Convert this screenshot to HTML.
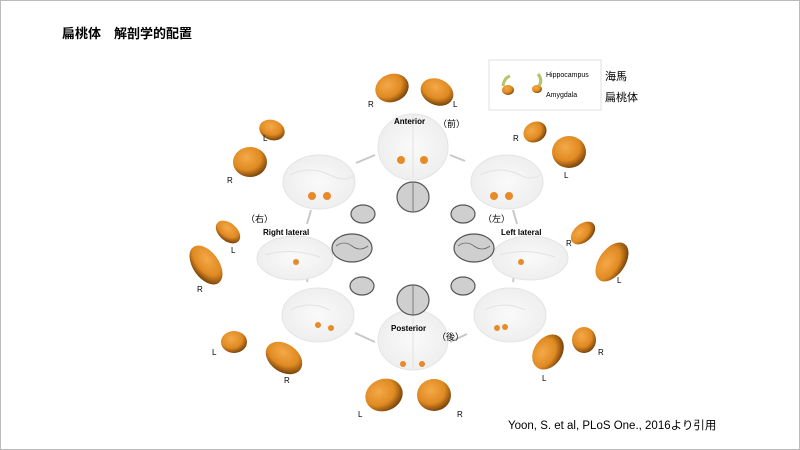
<!DOCTYPE html>
<html><head><meta charset="utf-8"><style>
body{margin:0;background:#fff}
svg{display:block}
text{font-family:"Liberation Sans","Noto Sans CJK JP",sans-serif}
</style></head><body>
<svg width="800" height="450" viewBox="0 0 800 450" xmlns="http://www.w3.org/2000/svg">
<defs>
<radialGradient id="am" cx="40%" cy="35%" r="70%">
<stop offset="0" stop-color="#f4a948"/><stop offset="0.6" stop-color="#e08a22"/><stop offset="1" stop-color="#6b3a08"/>
</radialGradient>
<radialGradient id="gb" cx="50%" cy="50%" r="60%">
<stop offset="0" stop-color="#fafafa"/><stop offset="1" stop-color="#ececec"/>
</radialGradient>
</defs>
<rect x="0.5" y="0.5" width="799" height="449" fill="#fff" stroke="#bbb"/>
<text x="62" y="38" font-size="13" font-weight="bold">扁桃体　解剖学的配置</text>

<rect x="489" y="60" width="112" height="50" fill="#fff" stroke="#e2e2e2"/>
<ellipse cx="508" cy="90" rx="6" ry="5" fill="url(#am)"/><path d="M503 86 q1 -8 7 -10" stroke="#b5c46a" stroke-width="3" fill="none"/>
<ellipse cx="537" cy="89" rx="5" ry="4" fill="url(#am)"/><path d="M539 86 q4 -6 -1 -12" stroke="#b5c46a" stroke-width="3" fill="none"/>
<text x="546" y="77" font-size="7">Hippocampus</text>
<text x="546" y="97" font-size="7">Amygdala</text>
<text x="605" y="80" font-size="11">海馬</text>
<text x="605" y="101" font-size="11">扁桃体</text>

<g stroke="#c8c8c8" stroke-width="2">
<line x1="356" y1="163" x2="375" y2="155"/><line x1="450" y1="155" x2="465" y2="161"/>
<line x1="311" y1="210" x2="307" y2="224"/><line x1="513" y1="210" x2="517" y2="224"/>
<line x1="309" y1="270" x2="307" y2="282"/><line x1="515" y1="270" x2="513" y2="282"/>
<line x1="355" y1="333" x2="375" y2="342"/><line x1="450" y1="342" x2="467" y2="334"/>
</g>

<g fill="url(#gb)" stroke="#e4e4e4">
<ellipse cx="413" cy="147" rx="35" ry="33"/>
<ellipse cx="319" cy="182" rx="36" ry="27"/>
<ellipse cx="507" cy="182" rx="36" ry="27"/>
<ellipse cx="295" cy="258" rx="38" ry="22"/>
<ellipse cx="530" cy="258" rx="38" ry="22"/>
<ellipse cx="318" cy="315" rx="36" ry="27"/>
<ellipse cx="510" cy="315" rx="36" ry="27"/>
<ellipse cx="413" cy="340" rx="35" ry="30"/>
</g>
<g stroke="#e2e2e2" fill="none">
<line x1="413" y1="116" x2="413" y2="178"/><line x1="413" y1="312" x2="413" y2="368"/>
<path d="M290 175 q20 -10 40 0 q15 8 25 0"/><path d="M480 175 q20 -10 40 0 q10 6 20 0"/>
<path d="M265 255 q25 -8 55 2"/><path d="M500 255 q25 -8 55 2"/>
<path d="M290 310 q20 -10 40 0"/><path d="M485 310 q20 -10 40 0"/>
</g>
<g fill="#cfcfcf" stroke="#555" stroke-width="1.2">
<ellipse cx="413" cy="197" rx="16" ry="15"/>
<ellipse cx="363" cy="214" rx="12" ry="9"/>
<ellipse cx="463" cy="214" rx="12" ry="9"/>
<ellipse cx="352" cy="248" rx="20" ry="14"/>
<ellipse cx="474" cy="248" rx="20" ry="14"/>
<ellipse cx="362" cy="286" rx="12" ry="9"/>
<ellipse cx="463" cy="286" rx="12" ry="9"/>
<ellipse cx="413" cy="300" rx="16" ry="15"/>
</g>
<g stroke="#666" stroke-width="0.8" fill="none">
<line x1="413" y1="183" x2="413" y2="211"/><line x1="413" y1="286" x2="413" y2="314"/>
<path d="M336 246 q8 -6 16 0 q8 6 16 0"/><path d="M458 246 q8 -6 16 0 q8 6 16 0"/>
</g>
<g fill="#e98a28">
<circle cx="401" cy="160" r="4"/><circle cx="424" cy="160" r="4"/>
<circle cx="312" cy="196" r="4"/><circle cx="327" cy="196" r="4"/>
<circle cx="494" cy="196" r="4"/><circle cx="509" cy="196" r="4"/>
<circle cx="296" cy="262" r="3"/><circle cx="521" cy="262" r="3"/>
<circle cx="318" cy="325" r="3"/><circle cx="331" cy="328" r="3"/>
<circle cx="497" cy="328" r="3"/><circle cx="505" cy="327" r="3"/>
<circle cx="403" cy="364" r="3"/><circle cx="422" cy="364" r="3"/>
</g>

<g fill="url(#am)">
<ellipse cx="392" cy="88" rx="17" ry="14" transform="rotate(-20 392 88)"/>
<ellipse cx="437" cy="92" rx="17" ry="13" transform="rotate(25 437 92)"/>
<ellipse cx="272" cy="130" rx="13" ry="10" transform="rotate(20 272 130)"/>
<ellipse cx="250" cy="162" rx="17" ry="15"/>
<ellipse cx="228" cy="232" rx="14" ry="9" transform="rotate(40 228 232)"/>
<ellipse cx="206" cy="265" rx="22" ry="13" transform="rotate(55 206 265)"/>
<ellipse cx="234" cy="342" rx="13" ry="11"/>
<ellipse cx="284" cy="358" rx="20" ry="14" transform="rotate(35 284 358)"/>
<ellipse cx="384" cy="395" rx="19" ry="16" transform="rotate(-20 384 395)"/>
<ellipse cx="434" cy="395" rx="17" ry="16"/>
<ellipse cx="535" cy="132" rx="12" ry="10" transform="rotate(-30 535 132)"/>
<ellipse cx="569" cy="152" rx="17" ry="16"/>
<ellipse cx="583" cy="233" rx="14" ry="9" transform="rotate(-40 583 233)"/>
<ellipse cx="612" cy="262" rx="22" ry="13" transform="rotate(-55 612 262)"/>
<ellipse cx="548" cy="352" rx="19" ry="14" transform="rotate(-55 548 352)"/>
<ellipse cx="584" cy="340" rx="12" ry="13"/>
</g>

<g font-size="8">
<text x="368" y="107">R</text><text x="453" y="107">L</text>
<text x="263" y="141">L</text><text x="227" y="183">R</text>
<text x="231" y="253">L</text><text x="197" y="292">R</text>
<text x="212" y="355">L</text><text x="284" y="383">R</text>
<text x="358" y="417">L</text><text x="457" y="417">R</text>
<text x="513" y="141">R</text><text x="564" y="178">L</text>
<text x="566" y="246">R</text><text x="617" y="283">L</text>
<text x="542" y="381">L</text><text x="598" y="355">R</text>
</g>
<g font-size="8" font-weight="bold">
<text x="394" y="124">Anterior</text>
<text x="263" y="235">Right lateral</text>
<text x="501" y="235">Left lateral</text>
<text x="391" y="331">Posterior</text>
</g>
<g font-size="9">
<text x="438" y="127">（前）</text>
<text x="246" y="222">（右）</text>
<text x="483" y="222">（左）</text>
<text x="437" y="340">（後）</text>
</g>
<text x="508" y="429" font-size="11.5">Yoon, S. et al, PLoS One., 2016より引用</text>
</svg>
</body></html>
